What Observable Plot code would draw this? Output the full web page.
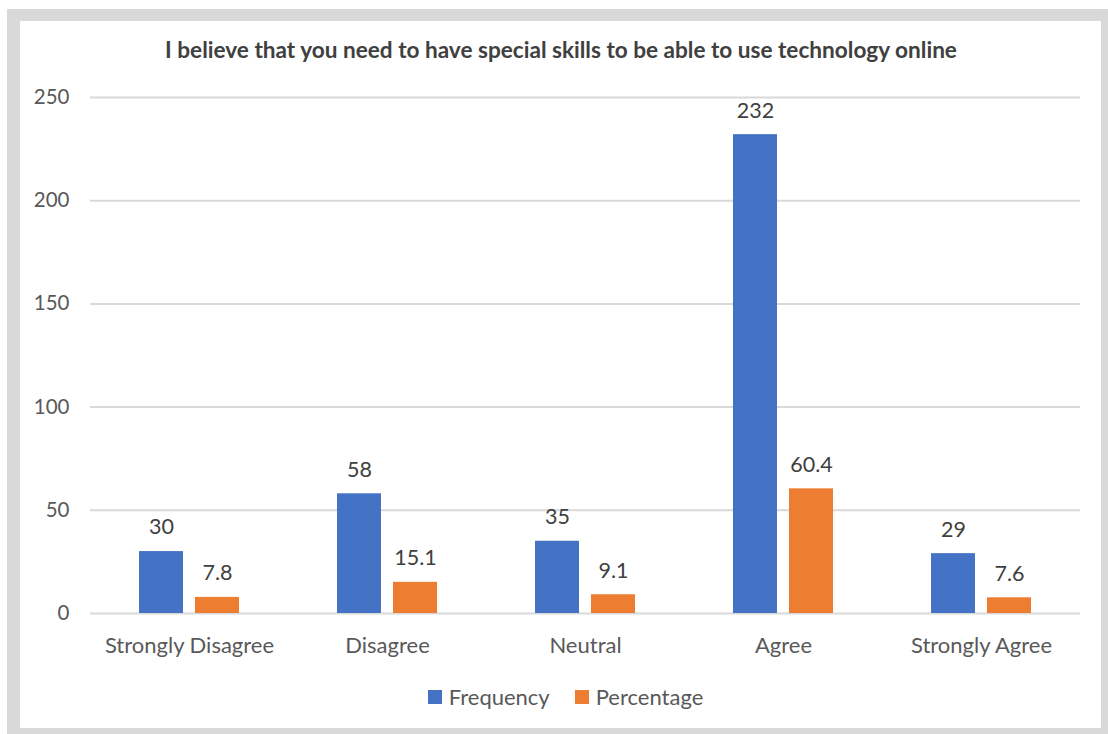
<!DOCTYPE html>
<html>
<head>
<meta charset="utf-8">
<script src="https://cdn.jsdelivr.net/npm/d3@7"></script>
<script src="https://cdn.jsdelivr.net/npm/@observablehq/plot@0.6"></script>
<style>
  html, body { margin:0; padding:0; background:#fff; width:1108px; height:734px; overflow:hidden; font-family: Lato, "Open Sans", sans-serif; }
  #frame { position:absolute; left:7px; top:9px; width:1101px; height:725px; background:#d9d9d9; }
  #inner { position:absolute; left:20px; top:21px; width:1081px; height:707px; background:#fff; }
  #title { position:absolute; left:0; top:37px; width:1108px; text-align:center; font-weight:bold; font-size:22.6px; color:#404040; line-height:26px; padding-left:14px; box-sizing:border-box; }
  #chart { position:absolute; left:0; top:70px; }
  #legend { position:absolute; left:0; top:683px; width:1108px; display:flex; justify-content:center; gap:25px; font-size:22px; color:#595959; line-height:28px; padding-left:23px; box-sizing:border-box; }
  .item { display:flex; align-items:center; gap:7px; }
  .sw { width:14px; height:14px; display:inline-block; }
</style>
</head>
<body>
<div id="frame"></div>
<div id="inner"></div>
<div id="title">I believe that you need to have special skills to be able to use technology online</div>
<div id="chart"></div>
<div id="legend"></div>
<script>
const categories = ["Strongly Disagree", "Disagree", "Neutral", "Agree", "Strongly Agree"];
const series = ["Frequency", "Percentage"];
const frequency = [30, 58, 35, 232, 29];
const percentage = [7.8, 15.1, 9.1, 60.4, 7.6];
const yTicks = [0, 50, 100, 150, 200, 250];
const colors = ["#4472C4", "#ED7D31"];

const data = categories.flatMap((c, i) => [
  {category: c, series: series[0], value: frequency[i]},
  {category: c, series: series[1], value: percentage[i]}
]);

const chart = Plot.plot({
  width: 1108,
  height: 593,
  marginLeft: 88,
  marginRight: 27,
  marginTop: 27,
  marginBottom: 50,
  style: {fontFamily: "Lato, 'Open Sans', sans-serif", fontSize: "21px", color: "#595959", background: "transparent", overflow: "visible"},
  fx: {domain: categories, padding: 0, label: null, axis: null},
  x: {domain: series, paddingInner: 0.21, paddingOuter: 0.847, axis: null},
  y: {domain: [0, 250], label: null, axis: null},
  color: {domain: series, range: colors},
  marks: [
    Plot.gridY(yTicks, {stroke: "#d9d9d9", strokeOpacity: 1, strokeWidth: 2}),
    Plot.axisY(yTicks, {anchor: "left", tickSize: 0, tickPadding: 21, fontSize: 20.5, label: null}),
    Plot.axisFx({anchor: "bottom", tickSize: 0, tickPadding: 24, fontSize: 22, label: null}),
    Plot.barY(data, {fx: "category", x: "series", y: "value", fill: "series"}),
    Plot.text(data, {fx: "category", x: "series", y: "value", text: d => String(d.value), dy: -24, fill: "#404040", fontSize: 21.5})
  ]
});
document.getElementById("chart").appendChild(chart);

const legend = document.getElementById("legend");
series.forEach((s, i) => {
  const item = document.createElement("div");
  item.className = "item";
  const sw = document.createElement("span");
  sw.className = "sw";
  sw.style.background = colors[i];
  const label = document.createElement("span");
  label.textContent = s;
  item.appendChild(sw);
  item.appendChild(label);
  legend.appendChild(item);
});
</script>
</body>
</html>
